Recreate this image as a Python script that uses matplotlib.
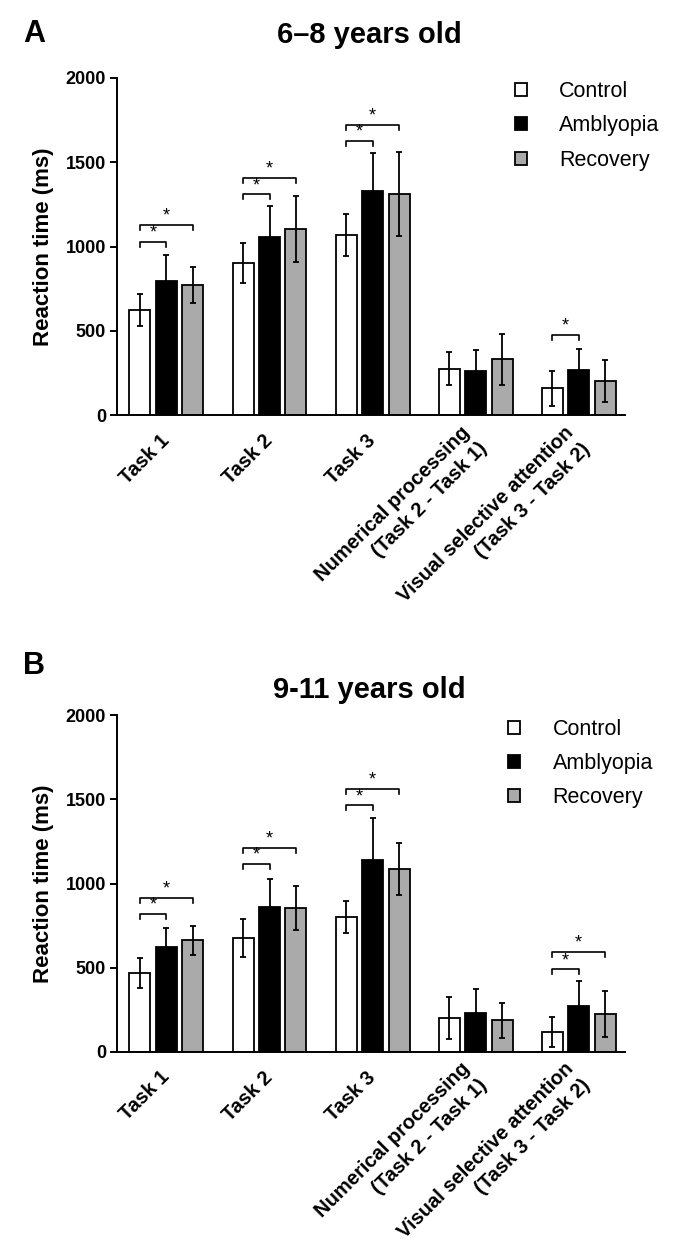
import numpy as np
import matplotlib.pyplot as plt

plt.rcParams['font.family'] = ['Liberation Sans', 'DejaVu Sans']

categories = ['Task 1', 'Task 2', 'Task 3',
              'Numerical processing\n(Task 2 - Task 1)',
              'Visual selective attention\n(Task 3 - Task 2)']
groups = ['Control', 'Amblyopia', 'Recovery']
colors = ['white', 'black', '#aaaaaa']

# panel A: 6-8 years old
a_mean = {'Control':   [624, 904, 1068, 276, 160],
          'Amblyopia': [796, 1056, 1331, 261, 270],
          'Recovery':  [770, 1104, 1311, 332, 204]}
a_sd = {'Control':   [93, 118, 125, 99, 102],
        'Amblyopia': [155, 181, 222, 128, 125],
        'Recovery':  [107, 197, 246, 152, 125]}
# (category, group i, group j, bracket height)
a_sig = [(0, 0, 1, 1029), (0, 0, 2, 1128),
         (1, 0, 1, 1309), (1, 0, 2, 1406),
         (2, 0, 1, 1625), (2, 0, 2, 1722),
         (4, 0, 1, 474)]

# panel B: 9-11 years old
b_mean = {'Control':   [469, 677, 802, 202, 119],
          'Amblyopia': [626, 863, 1140, 230, 273],
          'Recovery':  [663, 855, 1087, 188, 226]}
b_sd = {'Control':   [91, 111, 93, 123, 89],
        'Amblyopia': [111, 166, 248, 144, 147],
        'Recovery':  [84, 129, 153, 105, 134]}
b_sig = [(0, 0, 1, 818), (0, 0, 2, 917),
         (1, 0, 1, 1117), (1, 0, 2, 1214),
         (2, 0, 1, 1465), (2, 0, 2, 1562),
         (4, 0, 1, 491), (4, 0, 2, 594)]

W, H = 685, 1259
fig = plt.figure(figsize=(W / 100, H / 100), dpi=100)

step = 0.257
width = 0.204
x = np.arange(len(categories))


def panel(ax, means, sds, sig, leg_x):
    handles = []
    for k, g in enumerate(groups):
        b = ax.bar(x + (k - 1) * step, means[g], width, yerr=sds[g],
                   color=colors[k], edgecolor='black', linewidth=1.3,
                   error_kw=dict(ecolor='black', elinewidth=1.3,
                                 capsize=2, capthick=1.3),
                   label=g, zorder=2)
        handles.append(b)
    for c, i, j, h in sig:
        x1 = c + (i - 1) * step
        x2 = c + (j - 1) * step
        ax.plot([x1, x1, x2, x2], [h - 30, h, h, h - 30], color='black',
                lw=1.2, zorder=3)
        ax.text((x1 + x2) / 2, h + 2, '*', ha='center', va='bottom',
                fontsize=13)
    ax.set_xlim(-0.48, 4.45)
    ax.set_ylim(0, 2000)
    ax.set_yticks([0, 500, 1000, 1500, 2000])
    ax.set_xticks(x)
    ax.set_xticklabels(categories, rotation=45, ha='right', va='center',
                       rotation_mode='anchor', multialignment='right',
                       linespacing=1.3, fontsize=14.5, fontweight='bold')
    for t in ax.get_yticklabels():
        t.set_fontweight('bold')
        t.set_fontsize(13)
    ax.tick_params(axis='x', length=0, pad=16)
    ax.tick_params(axis='y', length=5, width=1.4, pad=3)
    ax.spines['top'].set_visible(False)
    ax.spines['right'].set_visible(False)
    ax.spines['left'].set_linewidth(1.4)
    ax.spines['bottom'].set_linewidth(1.4)
    ax.set_ylabel('Reaction time (ms)', fontsize=16, fontweight='bold',
                  labelpad=8)
    ax.legend(handles=handles, loc='upper left',
              bbox_to_anchor=(leg_x, 0.99),
              frameon=False, fontsize=15.5, handlelength=0.56,
              handleheight=0.56, handletextpad=1.5, labelspacing=0.62,
              borderpad=0, borderaxespad=0)


ax1 = fig.add_axes([117 / W, 1 - 415.3 / H, 508 / W, 337.6 / H])
panel(ax1, a_mean, a_sd, a_sig, 0.783)
fig.text(369 / W, 1 - 43 / H, '6–8 years old', ha='center', va='baseline',
         fontsize=21, fontweight='bold')
fig.text(23 / W, 1 - 42 / H, 'A', ha='left', va='baseline',
         fontsize=22, fontweight='bold')

ax2 = fig.add_axes([117 / W, 1 - 1052 / H, 508 / W, 336.7 / H])
panel(ax2, b_mean, b_sd, b_sig, 0.770)
fig.text(369 / W, 1 - 698 / H, '9-11 years old', ha='center', va='baseline',
         fontsize=21, fontweight='bold')
fig.text(23 / W, 1 - 674 / H, 'B', ha='left', va='baseline',
         fontsize=22, fontweight='bold')

fig.savefig('out.png', dpi=100)
